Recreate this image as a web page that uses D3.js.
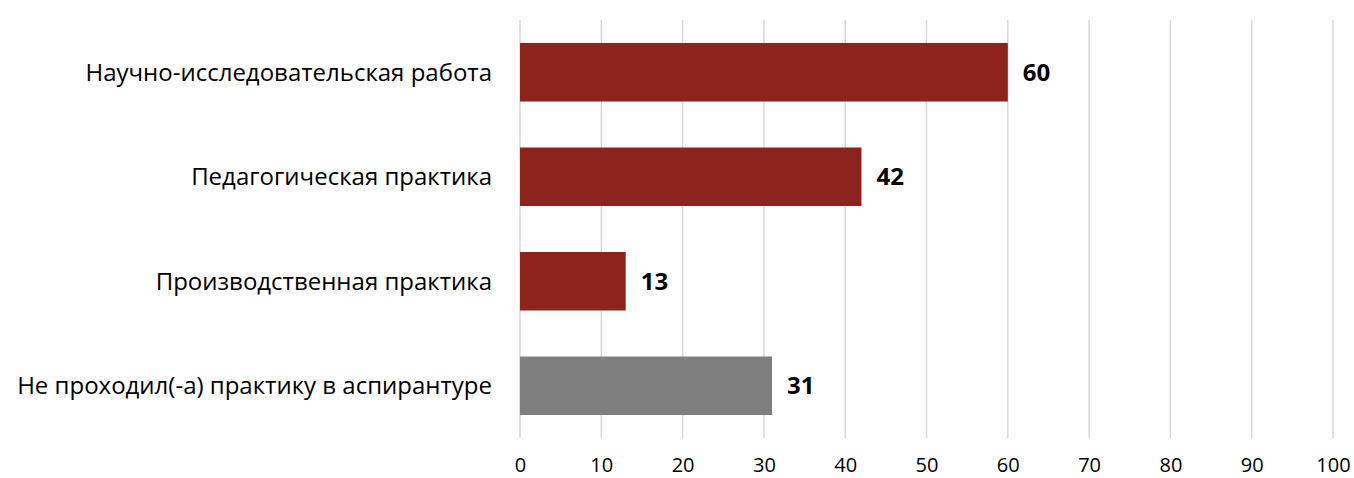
<!DOCTYPE html>
<html>
<head>
<meta charset="utf-8">
<script src="https://cdn.jsdelivr.net/npm/d3@7"></script>
<style>
  body { margin: 0; background: #fff; }
  text { font-family: "Open Sans", "Noto Sans", sans-serif; fill: #000; }
</style>
</head>
<body>
<div id="chart"></div>
<script>
var categories = ["Научно-исследовательская работа", "Педагогическая практика", "Производственная практика", "Не проходил(-а) практику в аспирантуре"];
var values = [60, 42, 13, 31];
var barColors = ["#8c241d", "#8c241d", "#8c241d", "#7f7f7f"];
var ticks = [0, 10, 20, 30, 40, 50, 60, 70, 80, 90, 100];

var width = 1354, height = 478;
var svg = d3.select("#chart").append("svg")
    .attr("width", width)
    .attr("height", height);

var x = d3.scaleLinear().domain([0, 100]).range([520, 1333]);
var y = d3.scaleBand().domain(categories).range([20, 438]).paddingInner(0.44).paddingOuter(0.22);

// gridlines
svg.append("g")
    .selectAll("line")
    .data(ticks)
    .enter().append("line")
    .attr("x1", function(d) { return x(d); })
    .attr("x2", function(d) { return x(d); })
    .attr("y1", 20)
    .attr("y2", 438)
    .attr("stroke", "#d9d9d9")
    .attr("stroke-width", 1.5);

// bars
svg.append("g")
    .selectAll("rect")
    .data(values)
    .enter().append("rect")
    .attr("x", x(0))
    .attr("y", function(d, i) { return y(categories[i]); })
    .attr("width", function(d) { return x(d) - x(0); })
    .attr("height", y.bandwidth())
    .attr("fill", function(d, i) { return barColors[i]; });

// value labels
svg.append("g")
    .selectAll("text")
    .data(values)
    .enter().append("text")
    .attr("x", function(d) { return x(d) + 15; })
    .attr("y", function(d, i) { return y(categories[i]) + y.bandwidth() / 2; })
    .attr("dy", "0.36em")
    .style("font-size", "24px")
    .style("font-weight", "bold")
    .text(function(d) { return d; });

// category labels
svg.append("g")
    .selectAll("text")
    .data(categories)
    .enter().append("text")
    .attr("x", 492)
    .attr("y", function(d) { return y(d) + y.bandwidth() / 2; })
    .attr("dy", "0.36em")
    .attr("text-anchor", "end")
    .style("font-size", "24px")
    .text(function(d) { return d; });

// x axis
var xAxis = svg.append("g")
    .attr("transform", "translate(0,465)")
    .call(d3.axisBottom(x).tickValues(ticks).tickSize(0).tickPadding(0));
xAxis.select(".domain").remove();
xAxis.selectAll("text")
    .attr("dy", "0.36em")
    .style("font-size", "20px")
    .style("font-family", "'Open Sans', 'Noto Sans', sans-serif")
    .style("fill", "#000");
</script>
</body>
</html>
